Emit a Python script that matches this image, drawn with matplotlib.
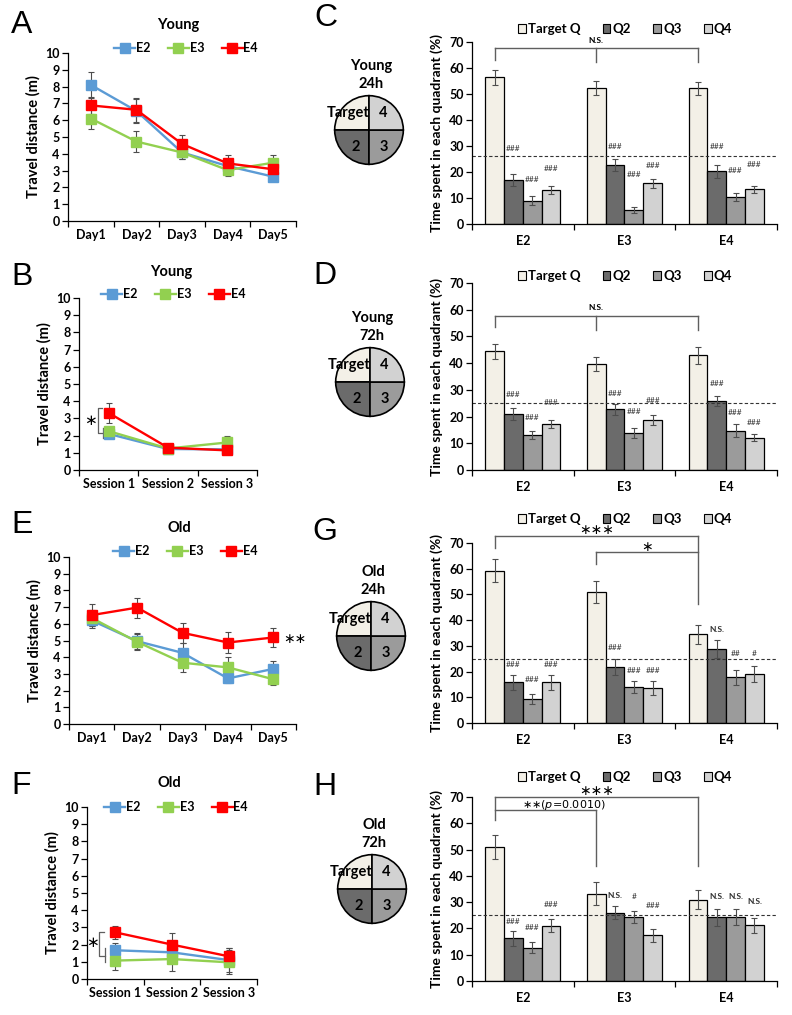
import numpy as np
import matplotlib
matplotlib.use("Agg")
import matplotlib.pyplot as plt
from matplotlib.lines import Line2D
from matplotlib.patches import Patch

plt.rcParams["font.family"] = ["Lato", "DejaVu Sans"]
plt.rcParams["font.weight"] = "bold"
plt.rcParams["axes.labelweight"] = "bold"
plt.rcParams["mathtext.fontset"] = "custom"
plt.rcParams["mathtext.it"] = "DejaVu Sans:italic:normal"
plt.rcParams["mathtext.rm"] = "DejaVu Sans:normal"

# -----------------------------
# DATA
# -----------------------------

genotypes = ["E2", "E3", "E4"]
quadrants = ["Target Q", "Q2", "Q3", "Q4"]
day_labels = ["Day1", "Day2", "Day3", "Day4", "Day5"]
session_labels = ["Session 1", "Session 2", "Session 3"]

# A - young, training days
a_e2 = [8.1, 6.55, 4.08, 3.27, 2.64]
a_e2_err = [0.75, 0.7, 0.4, 0.35, 0.2]
a_e3 = [6.1, 4.73, 4.08, 3.03, 3.47]
a_e3_err = [0.65, 0.6, 0.4, 0.35, 0.45]
a_e4 = [6.88, 6.62, 4.59, 3.43, 3.08]
a_e4_err = [0.5, 0.72, 0.5, 0.5, 0.35]

# B - young, sessions
b_e2 = [2.1, 1.22, 1.2]
b_e2_err = [0.1, 0.1, 0.1]
b_e3 = [2.26, 1.25, 1.6]
b_e3_err = [0.1, 0.1, 0.35]
b_e4 = [3.32, 1.3, 1.14]
b_e4_err = [0.56, 0.1, 0.1]

# E - old, training days
e_e2 = [6.2, 4.96, 4.26, 2.73, 3.3]
e_e2_err = [0.45, 0.5, 0.6, 0.3, 0.45]
e_e3 = [6.35, 4.92, 3.67, 3.39, 2.68]
e_e3_err = [0.5, 0.45, 0.58, 0.62, 0.35]
e_e4 = [6.52, 6.97, 5.46, 4.88, 5.18]
e_e4_err = [0.65, 0.6, 0.6, 0.6, 0.55]

# F - old, sessions
f_e2 = [1.67, 1.55, 1.1]
f_e2_err = [0.43, 0.6, 0.7]
f_e3 = [1.07, 1.16, 0.97]
f_e3_err = [0.52, 0.7, 0.7]
f_e4 = [2.71, 2.0, 1.32]
f_e4_err = [0.4, 0.68, 0.5]

# C - young 24h
c_target = [56.5, 52.3, 52.3]
c_target_err = [2.9, 2.7, 2.5]
c_q2 = [17.0, 22.6, 20.2]
c_q2_err = [2.3, 2.3, 2.6]
c_q3 = [9.0, 5.4, 10.5]
c_q3_err = [1.6, 1.3, 1.5]
c_q4 = [13.1, 15.7, 13.4]
c_q4_err = [1.4, 1.8, 1.4]

# D - young 72h
d_target = [44.4, 39.75, 42.9]
d_target_err = [2.75, 2.6, 3.1]
d_q2 = [21.0, 22.75, 25.9]
d_q2_err = [2.2, 2.1, 1.9]
d_q3 = [13.1, 14.0, 14.75]
d_q3_err = [1.4, 1.9, 2.3]
d_q4 = [17.25, 18.75, 12.1]
d_q4_err = [1.6, 1.9, 1.4]

# G - old 24h
g_target = [59.3, 51.0, 34.5]
g_target_err = [4.4, 4.35, 3.7]
g_q2 = [15.8, 21.7, 28.8]
g_q2_err = [2.9, 3.0, 3.4]
g_q3 = [9.35, 13.9, 17.8]
g_q3_err = [2.1, 2.3, 3.0]
g_q4 = [15.8, 13.6, 19.1]
g_q4_err = [2.8, 2.9, 3.05]

# H - old 72h
h_target = [51.0, 33.2, 31.0]
h_target_err = [4.45, 4.3, 3.7]
h_q2 = [16.2, 26.0, 24.3]
h_q2_err = [2.9, 2.5, 3.2]
h_q3 = [12.6, 24.4, 24.3]
h_q3_err = [2.1, 2.2, 3.0]
h_q4 = [21.0, 17.4, 21.2]
h_q4_err = [2.5, 2.5, 2.9]

# significance marks above bars: (group, quadrant, text, y)
c_marks = [(0, 1, "###", 28.9), (0, 2, "###", 17.3), (0, 3, "###", 21.4),
           (1, 1, "###", 29.8), (1, 2, "###", 18.9), (1, 3, "###", 22.5),
           (2, 1, "###", 29.8), (2, 2, "###", 20.5), (2, 3, "###", 22.7)]
d_marks = [(0, 1, "###", 28.1), (0, 2, "###", 19.6), (0, 3, "###", 25.4),
           (1, 1, "###", 28.5), (1, 2, "###", 21.9), (1, 3, "###", 26.2),
           (2, 1, "###", 32.2), (2, 2, "###", 21.5), (2, 3, "###", 17.9)]
g_marks = [(0, 1, "###", 22.6), (0, 2, "###", 16.8), (0, 3, "###", 22.6),
           (1, 1, "###", 29.5), (1, 2, "###", 20.6), (1, 3, "###", 20.6),
           (2, 1, "N.S.", 36.2), (2, 2, "##", 27.1), (2, 3, "#", 27.1)]
h_marks = [(0, 1, "###", 22.5), (0, 2, "###", 20.4), (0, 3, "###", 29.1),
           (1, 1, "N.S.", 32.7), (1, 2, "#", 32.3), (1, 3, "###", 28.8),
           (2, 1, "N.S.", 32.0), (2, 2, "N.S.", 32.0), (2, 3, "N.S.", 30.2)]

# -----------------------------
# STYLE / LAYOUT HELPERS
# -----------------------------

W, H = 792, 1015
fig = plt.figure(figsize=(W / 100, H / 100), dpi=100)

line_colors = {"E2": "#5b9bd5", "E3": "#92d050", "E4": "#ff0000"}
quad_colors = ["#f3f0e7", "#6b6b6b", "#9b9b9b", "#d2d2d2"]
err_color = "#4d4d4d"
brk_color = "#5f5f5f"
bw = 0.185


def px_axes(left, top, right, bottom):
    return fig.add_axes([left / W, 1 - bottom / H, (right - left) / W, (bottom - top) / H])


def fig_text(x, y, s, **kw):
    fig.text(x / W, 1 - y / H, s, **kw)


def style_axes(ax, ncat, labels, ymax, ystep, pad):
    for side in ["top", "right"]:
        ax.spines[side].set_visible(False)
    for side in ["left", "bottom"]:
        ax.spines[side].set_linewidth(0.9)
    ax.set_xlim(-0.5, ncat - 0.5)
    ax.set_ylim(0, ymax)
    ax.set_yticks(np.arange(0, ymax + 0.1, ystep))
    ax.set_xticks(np.arange(ncat + 1) - 0.5)
    ax.set_xticklabels([])
    ax.set_xticks(np.arange(ncat), minor=True)
    ax.set_xticklabels(labels, minor=True)
    ax.tick_params(axis="x", which="major", direction="out", length=4, width=0.9)
    ax.tick_params(axis="x", which="minor", length=0, pad=pad, labelsize=9)
    ax.tick_params(axis="y", direction="out", length=4, width=0.9, labelsize=9, pad=2)


def line_panel(box, labels, series, title_xy, title, legend_xy):
    ax = px_axes(*box)
    x = np.arange(len(labels))
    for name, (vals, errs) in zip(genotypes, series):
        ax.errorbar(x, vals, yerr=errs, fmt="none", ecolor=err_color,
                    elinewidth=0.8, capsize=2.2, capthick=0.8, zorder=2)
    for name, (vals, errs) in zip(genotypes, series):
        ax.plot(x, vals, color=line_colors[name], marker="s", ms=6.5, lw=1.7,
                zorder=3, clip_on=False)
    style_axes(ax, len(labels), labels, 10, 1, 6)
    ax.set_ylabel("Travel distance (m)", fontsize=10.5, labelpad=3)
    fig_text(title_xy[0], title_xy[1], title, fontsize=10.5, ha="center", va="center")
    handles = [Line2D([], [], color=line_colors[g], marker="s", ms=6.5, lw=1.7) for g in genotypes]
    fig.legend(handles, genotypes, loc="center", ncol=3, frameon=False, fontsize=9,
               handlelength=1.7, columnspacing=1.4, handletextpad=0.05,
               bbox_to_anchor=(legend_xy[0] / W, 1 - legend_xy[1] / H))
    return ax


def bracket(ax, xs, y0, ys):
    ax.plot([xs[0], xs[-1]], [y0, y0], color=brk_color, lw=1, clip_on=False)
    for xv, yv in zip(xs, ys):
        ax.plot([xv, xv], [y0, yv], color=brk_color, lw=1, clip_on=False)


def bar_panel(box, vals, errs, hline, marks, legend_y):
    ax = px_axes(*box)
    x = np.arange(3)
    for q in range(4):
        ax.bar(x + (q - 1.5) * bw, vals[q], bw, yerr=errs[q], color=quad_colors[q],
               edgecolor="black", linewidth=0.9,
               error_kw=dict(ecolor=err_color, elinewidth=0.8, capsize=2.2, capthick=0.8))
    ax.axhline(hline, color="#333333", lw=0.8, dashes=(3, 2))
    for g, q, s, y in marks:
        ax.text(g + (q - 1.5) * bw, y, s, fontsize=6, ha="center", va="center",
                color="#333333", fontweight="normal" if "#" in s else "bold")
    style_axes(ax, 3, genotypes, 70, 10, 8)
    ax.set_ylabel("Time spent in each quadrant (%)", fontsize=10, labelpad=4)
    handles = [Patch(facecolor=c, edgecolor="black", linewidth=0.8) for c in quad_colors]
    fig.legend(handles, quadrants, loc="center", ncol=4, frameon=False, fontsize=9.5,
               handlelength=0.6, handleheight=0.7, handletextpad=0.15, columnspacing=1.7,
               bbox_to_anchor=(625 / W, 1 - legend_y / H))
    return ax


def pie_panel(cx, cy, line1, line2, r=35):
    ax = px_axes(cx - r, cy - r, cx + r, cy + r)
    ax.pie([1, 1, 1, 1], startangle=90, colors=quad_colors, radius=1,
           wedgeprops=dict(edgecolor="black", linewidth=1.2))
    ax.set_xlim(-1.02, 1.02)
    ax.set_ylim(-1.02, 1.02)
    ax.text(-0.6, 0.5, "Target", fontsize=10.5, ha="center", va="center")
    ax.text(0.42, 0.5, "4", fontsize=10.5, ha="center", va="center")
    ax.text(-0.38, -0.5, "2", fontsize=10.5, ha="center", va="center")
    ax.text(0.42, -0.5, "3", fontsize=10.5, ha="center", va="center")
    fig_text(cx + 2, cy - 64, line1, fontsize=10.5, ha="center", va="center")
    fig_text(cx + 2, cy - 46, line2, fontsize=10.5, ha="center", va="center")


def letter(x, y, s):
    fig_text(x, y, s, fontsize=23, family="Liberation Sans", fontweight="normal",
             ha="center", va="center")

# -----------------------------
# LINE PANELS
# -----------------------------

ax_a = line_panel((68, 53, 296, 221), day_labels,
                  [(a_e2, a_e2_err), (a_e3, a_e3_err), (a_e4, a_e4_err)],
                  (178, 25), "Young", (186, 48))

ax_b = line_panel((79, 298, 257, 470), session_labels,
                  [(b_e2, b_e2_err), (b_e3, b_e3_err), (b_e4, b_e4_err)],
                  (171, 272), "Young", (173, 294))
ax_b.plot([-0.12, -0.18, -0.18, -0.095], [3.6, 3.6, 2.15, 2.15], color=brk_color, lw=0.9, clip_on=False)
ax_b.plot([-0.095, -0.095], [2.45, 1.85], color=brk_color, lw=0.9, clip_on=False)
ax_b.text(-0.31, 2.9, "∗", fontsize=11, ha="center", va="center", family="DejaVu Sans",
          fontweight="normal")

ax_e = line_panel((69, 557, 296, 724), day_labels,
                  [(e_e2, e_e2_err), (e_e3, e_e3_err), (e_e4, e_e4_err)],
                  (179, 528), "Old", (185, 551))
ax_e.text(4.22, 5.1, "∗∗", fontsize=10, ha="left", va="center", family="DejaVu Sans",
          fontweight="normal")

ax_f = line_panel((87, 807, 257, 979), session_labels,
                  [(f_e2, f_e2_err), (f_e3, f_e3_err), (f_e4, f_e4_err)],
                  (169, 783), "Old", (176, 807))
ax_f.plot([-0.2, -0.29, -0.29, -0.18], [2.73, 2.73, 1.34, 1.34], color=brk_color, lw=0.9, clip_on=False)
ax_f.plot([-0.18, -0.18], [1.8, 1.0], color=brk_color, lw=0.9, clip_on=False)
ax_f.text(-0.41, 2.1, "∗", fontsize=11, ha="center", va="center", family="DejaVu Sans",
          fontweight="normal")

# -----------------------------
# BAR PANELS
# -----------------------------

tq = -1.5 * bw  # target bar offset inside group

ax_c = bar_panel((472, 42, 777, 224),
                 [c_target, c_q2, c_q3, c_q4], [c_target_err, c_q2_err, c_q3_err, c_q4_err],
                 26, c_marks, 29)
bracket(ax_c, [tq, 1 + tq, 2 + tq], 67.8, [63, 62.3, 62.3])
ax_c.text(1 + tq, 70.7, "N.S.", fontsize=6, ha="center", va="center")

ax_d = bar_panel((472, 283, 777, 470),
                 [d_target, d_q2, d_q3, d_q4], [d_target_err, d_q2_err, d_q3_err, d_q4_err],
                 25, d_marks, 276)
bracket(ax_d, [tq, 1 + tq, 2 + tq], 57.7, [53.5, 52.5, 52.5])
ax_d.text(1 + tq, 60.8, "N.S.", fontsize=6, ha="center", va="center")

ax_g = bar_panel((472, 543, 777, 723),
                 [g_target, g_q2, g_q3, g_q4], [g_target_err, g_q2_err, g_q3_err, g_q4_err],
                 25, g_marks, 519)
bracket(ax_g, [tq, 2 + tq], 72.7, [68.2, 46.1])
bracket(ax_g, [1 + tq, 2 + tq], 66.5, [62, 66.5])
ax_g.text(1 + tq, 75, "∗∗∗", fontsize=10, ha="center", va="center", family="DejaVu Sans",
          fontweight="normal")
ax_g.text(1.5 + tq, 68.3, "∗", fontsize=10, ha="center", va="center", family="DejaVu Sans",
          fontweight="normal")

ax_h = bar_panel((472, 797, 777, 981),
                 [h_target, h_q2, h_q3, h_q4], [h_target_err, h_q2_err, h_q3_err, h_q4_err],
                 25, h_marks, 777)
bracket(ax_h, [tq, 2 + tq], 69.9, [61.3, 43.9])
bracket(ax_h, [tq, 1 + tq], 64.9, [64.9, 43.9])
ax_h.text(1 + tq, 72.2, "∗∗∗", fontsize=10, ha="center", va="center", family="DejaVu Sans",
          fontweight="normal")
ax_h.text(-0.01, 66.8, "∗∗($p$=0.0010)", fontsize=8, ha="left", va="center",
          family="DejaVu Sans", fontweight="normal")

# -----------------------------
# PIE DIAGRAMS + LETTERS
# -----------------------------

pie_panel(369, 130, "Young", "24h")
pie_panel(370, 382, "Young", "72h")
pie_panel(371, 636, "Old", "24h")
pie_panel(372, 889, "Old", "72h")

letter(22, 25, "A")
letter(22, 277, "B")
letter(22, 525, "E")
letter(21, 786, "F")
letter(326, 18, "C")
letter(325, 276, "D")
letter(325, 532, "G")
letter(325, 787, "H")

fig.savefig("out.png", dpi=100)
